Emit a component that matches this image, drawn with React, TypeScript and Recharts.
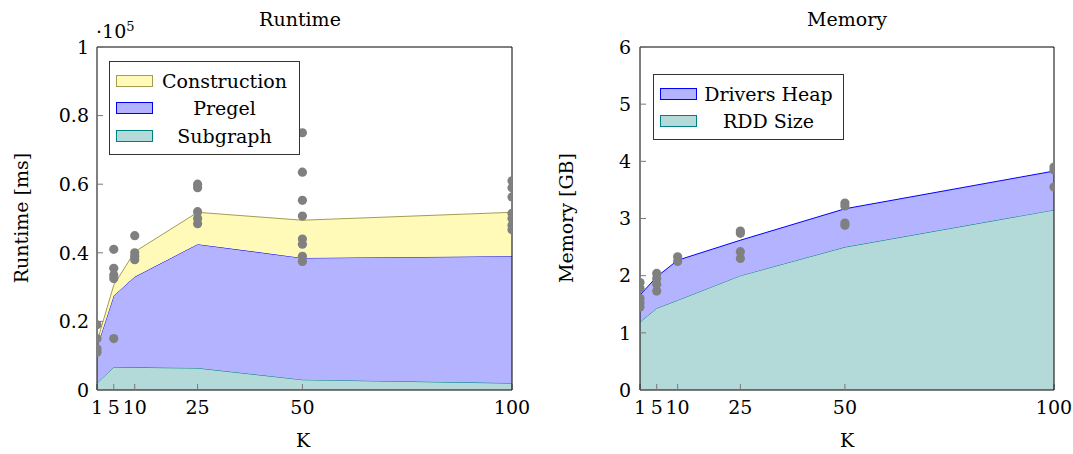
import React from 'react';
import { ComposedChart, Area, Scatter, XAxis, YAxis } from 'recharts';

// K values on the x axis
const kValues = [1, 5, 10, 25, 50, 100];

// runtime, in units of 10^5 ms (stacked, bottom to top)
const subgraphTime = [0.02, 0.067, 0.066, 0.064, 0.03, 0.02];
const pregelTime = [0.105, 0.208, 0.264, 0.361, 0.355, 0.37];
const constructionTime = [0.015, 0.031, 0.073, 0.093, 0.11, 0.128];

// single runs, one list per K
const runtimeRuns = [
  [0.19, 0.15, 0.12, 0.11],
  [0.41, 0.355, 0.335, 0.325, 0.15],
  [0.45, 0.4, 0.39, 0.38],
  [0.6, 0.59, 0.52, 0.5, 0.485],
  [0.75, 0.635, 0.553, 0.507, 0.44, 0.425, 0.39, 0.375],
  [0.61, 0.59, 0.563, 0.515, 0.5, 0.48, 0.467],
];

// memory in GB (stacked)
const rddSize = [1.19, 1.43, 1.57, 2.0, 2.5, 3.15];
const driversHeap = [0.47, 0.55, 0.7, 0.62, 0.67, 0.68];

const memoryRuns = [
  [1.88, 1.78, 1.6, 1.52, 1.45],
  [2.04, 1.95, 1.85, 1.73],
  [2.33, 2.25],
  [2.78, 2.74, 2.42, 2.3],
  [3.27, 3.22, 2.92, 2.88],
  [3.9, 3.85, 3.55],
];

const runtimeTicks = [0, 0.2, 0.4, 0.6, 0.8, 1];
const memoryTicks = [0, 1, 2, 3, 4, 5, 6];

const FONT = 'DejaVu Serif';
const FS = 19;
const tickStyle = { fontFamily: FONT, fontSize: FS, fill: '#000' };

const runtimeData = kValues.map((k, i) => ({
  k,
  subgraph: subgraphTime[i],
  pregel: pregelTime[i],
  construction: constructionTime[i],
}));
const memoryData = kValues.map((k, i) => ({ k, rdd: rddSize[i], heap: driversHeap[i] }));

const flatten = (runs: number[][]) =>
  runs.flatMap((vals, i) => vals.map((v) => ({ k: kValues[i], v })));

const Dot = (p: any) => <circle cx={p.cx} cy={p.cy} r={4.6} fill="#808080" />;

type Item = { label: string; fill: string; stroke: string };

const LegendBox = ({ left, top, width, items }: { left: number; top: number; width: number; items: Item[] }) => (
  <div
    style={{
      position: 'absolute', left, top, width, boxSizing: 'border-box',
      border: '1px solid #333', background: '#fff', padding: '5px 0 4px 0',
      fontFamily: FONT, fontSize: FS,
    }}
  >
    {items.map((it) => (
      <div key={it.label} style={{ display: 'flex', alignItems: 'center', height: 27.5 }}>
        <div style={{ width: 37, height: 12, marginLeft: 6, boxSizing: 'border-box', background: it.fill, border: `1px solid ${it.stroke}` }} />
        <div style={{ flex: 1, textAlign: 'center', paddingRight: 3 }}>{it.label}</div>
      </div>
    ))}
  </div>
);

const Txt = ({ x, y, children, rotate }: { x: number; y: number; children: React.ReactNode; rotate?: boolean }) => (
  <div
    style={{
      position: 'absolute', left: x, top: y, fontFamily: FONT, fontSize: FS, whiteSpace: 'nowrap',
      transform: `translate(-50%, -50%)${rotate ? ' rotate(-90deg)' : ''}`,
    }}
  >
    {children}
  </div>
);

export default function App() {
  const axisLine = { stroke: '#000', strokeWidth: 1 };
  const tickLine = { stroke: '#777' };
  return (
    <div style={{ position: 'absolute', left: 0, top: 0, width: 1073, height: 454, background: '#fff' }}>
      <div style={{ position: 'absolute', left: 0, top: 0 }}>
        <ComposedChart width={530} height={454} data={runtimeData} margin={{ top: 46, right: 17, bottom: 24, left: 37 }}>
          <XAxis dataKey="k" type="number" domain={[1, 100]} ticks={kValues} interval={0} allowDataOverflow
            height={40} tickSize={-6} tickMargin={17} tick={tickStyle} axisLine={axisLine} tickLine={tickLine} />
          <XAxis xAxisId="top" orientation="top" dataKey="k" type="number" domain={[1, 100]} ticks={kValues} interval={0}
            allowDataOverflow height={1} tickSize={-6} tick={false} axisLine={axisLine} tickLine={tickLine} />
          <YAxis type="number" domain={[0, 1]} ticks={runtimeTicks} interval={0} allowDataOverflow width={60}
            tickSize={-6} tickMargin={14} tick={tickStyle} axisLine={axisLine} tickLine={tickLine} />
          <YAxis yAxisId="right" orientation="right" type="number" domain={[0, 1]} ticks={runtimeTicks} interval={0}
            allowDataOverflow width={1} tickSize={-6} tick={false} axisLine={axisLine} tickLine={tickLine} />
          <Area type="linear" dataKey="subgraph" stackId="rt" fill="#b3d9d9" fillOpacity={1} stroke="#008080" dot={false} activeDot={false} isAnimationActive={false} />
          <Area type="linear" dataKey="pregel" stackId="rt" fill="#b3b3ff" fillOpacity={1} stroke="#0000ff" dot={false} activeDot={false} isAnimationActive={false} />
          <Area type="linear" dataKey="construction" stackId="rt" fill="#fffab8" fillOpacity={1} stroke="#a39d4f" dot={false} activeDot={false} isAnimationActive={false} />
          <Scatter data={flatten(runtimeRuns)} dataKey="v" shape={Dot} isAnimationActive={false} />
        </ComposedChart>
      </div>
      <div style={{ position: 'absolute', left: 540, top: 0 }}>
        <ComposedChart width={533} height={454} data={memoryData} margin={{ top: 46, right: 18, bottom: 24, left: 40 }}>
          <XAxis dataKey="k" type="number" domain={[1, 100]} ticks={kValues} interval={0} allowDataOverflow
            height={40} tickSize={-6} tickMargin={17} tick={tickStyle} axisLine={axisLine} tickLine={tickLine} />
          <XAxis xAxisId="top" orientation="top" dataKey="k" type="number" domain={[1, 100]} ticks={kValues} interval={0}
            allowDataOverflow height={1} tickSize={-6} tick={false} axisLine={axisLine} tickLine={tickLine} />
          <YAxis type="number" domain={[0, 6]} ticks={memoryTicks} interval={0} allowDataOverflow width={60}
            tickSize={-6} tickMargin={15} tick={tickStyle} axisLine={axisLine} tickLine={tickLine} />
          <YAxis yAxisId="right" orientation="right" type="number" domain={[0, 6]} ticks={memoryTicks} interval={0}
            allowDataOverflow width={1} tickSize={-6} tick={false} axisLine={axisLine} tickLine={tickLine} />
          <Area type="linear" dataKey="rdd" stackId="mem" fill="#b3d9d9" fillOpacity={1} stroke="#008080" dot={false} activeDot={false} isAnimationActive={false} />
          <Area type="linear" dataKey="heap" stackId="mem" fill="#b3b3ff" fillOpacity={1} stroke="#0000ff" dot={false} activeDot={false} isAnimationActive={false} />
          <Scatter data={flatten(memoryRuns)} dataKey="v" shape={Dot} isAnimationActive={false} />
        </ComposedChart>
      </div>

      <Txt x={300} y={19}>Runtime</Txt>
      <Txt x={847} y={19}>Memory</Txt>
      <div style={{ position: 'absolute', left: 96, top: 19, fontFamily: FONT, fontSize: FS }}>
        ·10<sup style={{ fontSize: 13 }}>5</sup>
      </div>
      <Txt x={303} y={440}>K</Txt>
      <Txt x={847} y={440}>K</Txt>
      <Txt x={21} y={218} rotate>Runtime [ms]</Txt>
      <Txt x={566} y={218} rotate>Memory [GB]</Txt>

      <LegendBox left={109} top={61} width={191} items={[
        { label: 'Construction', fill: '#fffab8', stroke: '#a39d4f' },
        { label: 'Pregel', fill: '#b3b3ff', stroke: '#0000ff' },
        { label: 'Subgraph', fill: '#b3d9d9', stroke: '#008080' },
      ]} />
      <LegendBox left={653} top={74} width={191} items={[
        { label: 'Drivers Heap', fill: '#b3b3ff', stroke: '#0000ff' },
        { label: 'RDD Size', fill: '#b3d9d9', stroke: '#008080' },
      ]} />
    </div>
  );
}
